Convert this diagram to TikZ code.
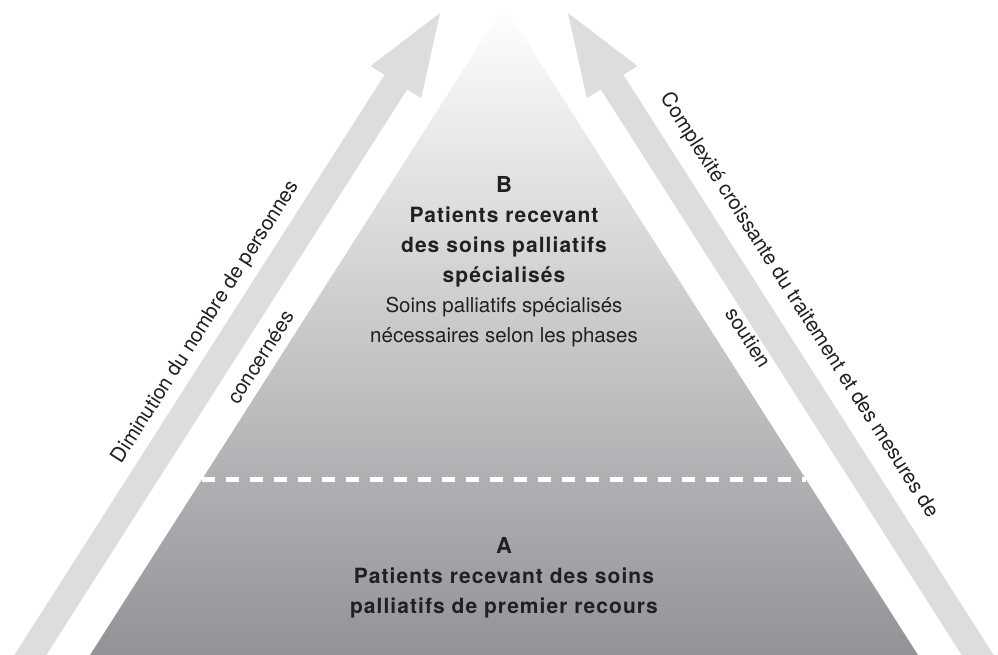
\documentclass[tikz,border=0pt]{standalone}
\usepackage{fontspec}
\setmainfont{TeX Gyre Heros}
\newfontfamily\tierfont[LetterSpace=5]{TeX Gyre Heros}
\usetikzlibrary{calc}

\definecolor{arrowgrey}{HTML}{DCDDDF}
\definecolor{pyrbottom}{HTML}{929397}
\definecolor{textdark}{HTML}{231F20}

\newcommand{\tierhead}[1]{{\tierfont\bfseries #1}}
\newcommand{\tierletter}[1]{{\fontsize{22}{30}\selectfont\bfseries #1}}

\tikzset{
	bigarrow/.style={fill=arrowgrey},
	tierline/.style={draw=white,line width=5pt,dash pattern=on 13pt off 11pt},
	tiertext/.style={align=center,inner sep=0pt,text=textdark,font=\fontsize{21}{30}\selectfont},
	sidetext/.style={align=center,inner sep=0pt,text=textdark,font=\fontsize{20.5}{24.6}\selectfont},
}

\begin{document}
\begin{tikzpicture}[x=1pt,y=-1pt]
		\useasboundingbox (0,0) rectangle (998,655);

		% pyramid
		\coordinate (apex) at (504,6);
		\coordinate (baseL) at (90,655);
		\coordinate (baseR) at (918,655);
		\shade [top color=white,bottom color=pyrbottom] (apex) -- (baseL) -- (baseR) -- cycle;
		\draw [tierline] ($(apex)!0.729!(baseL)$) -- ($(apex)!0.729!(baseR)$);

		% arrows along the sides
		\foreach \tipx/\ang in {440/237.46,568/302.54}
			\fill [bigarrow,shift={(\tipx,13)},rotate=\ang]
				(0,0) -- (82,30) -- (82,13.5) -- (800,13.5) -- (800,-13.5) -- (82,-13.5) -- (82,-30) -- cycle;

		\node [tiertext,anchor=north] (tierB) at (504,176.2) {\tierletter{B}\\
			\tierhead{Patients recevant}\\
			\tierhead{des soins palliatifs}\\
			\tierhead{spécialisés}\\
			{\fontsize{20.5}{30}\selectfont Soins palliatifs spécialisés}\\
			{\fontsize{20.5}{30}\selectfont nécessaires selon les phases}};
		\node [tiertext,anchor=north] (tierA) at (504,537.2) {\tierletter{A}\\
			\tierhead{Patients recevant des soins}\\
			\tierhead{palliatifs de premier recours}};

		\node [sidetext,rotate=57.46] (fewer) at (232.5,339) {Diminution du nombre de personnes\\[42pt]concernées};
		\node [sidetext,rotate=-57.46] (harder) at (774.5,321) {Complexité croissante du traitement et des mesures de\\[37pt]soutien};
	\end{tikzpicture}
\end{document}
